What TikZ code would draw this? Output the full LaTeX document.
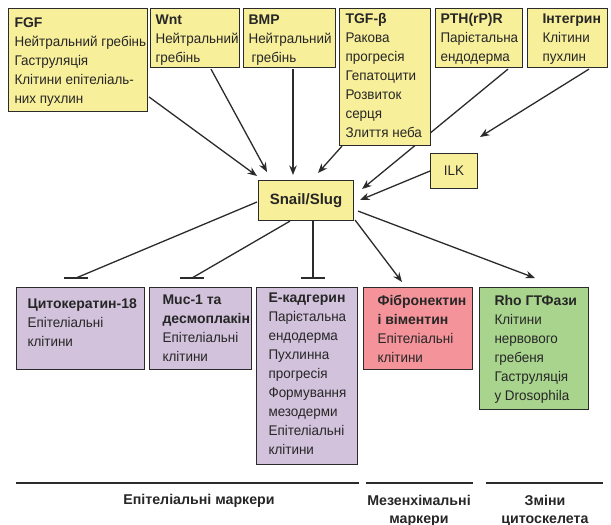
\documentclass[tikz,border=0pt]{standalone}
\usepackage{fontspec}
\setmainfont{Liberation Sans}[UprightFeatures={FakeStretch=0.96}, BoldFeatures={FakeStretch=1.0}]
\usetikzlibrary{arrows.meta,calc,backgrounds}
\definecolor{byel}{HTML}{F8EF9B}
\definecolor{bpur}{HTML}{D2C2DC}
\definecolor{bpink}{HTML}{F4939A}
\definecolor{bgrn}{HTML}{A9D48E}
\definecolor{bline}{HTML}{2B2B2B}
% #1 width, #2 height, #3 left inset, #4 first baseline, #5 text
\newcommand{\bxt}[5]{\parbox[t][#2pt][t]{#1pt}{\raggedright\leftskip=#3pt\relax
  \hyphenpenalty=10000\exhyphenpenalty=10000\baselineskip=19pt
  \rule{0pt}{#4pt}#5}}
\tikzset{
  box/.style={draw=bline, line width=1.1pt, inner sep=0pt, anchor=north west,
    font=\fontsize{14}{19}\selectfont, text=black!85},
  arr/.style={draw=bline, line width=1.3pt, -{Stealth[length=9.5pt,width=7.5pt]}},
  inh/.style={draw=bline, line width=1.3pt},
  rul/.style={draw=bline, line width=2pt},
  lab/.style={font=\fontsize{14.2}{18}\selectfont\bfseries, anchor=base, inner sep=0pt, text=black!85},
}
\begin{document}
\begin{tikzpicture}[x=1pt,y=-1pt]
\useasboundingbox (0,0) rectangle (611,525);
% top boxes
\node[box, fill=byel] (fgf) at (8,8) {\bxt{139}{103}{6}{19}{\textbf{FGF}\\Нейтральний~гребінь\\Гаструляція\\Клітини~епітеліаль-\\них~пухлин}};
\node[box, fill=byel] (wnt) at (150,8) {\bxt{89}{59}{5}{16}{\textbf{Wnt}\\Нейтральний\\гребінь}};
\node[box, fill=byel] (bmp) at (243,8) {\bxt{92}{59}{5}{16}{\textbf{BMP}\\Нейтральний\\\hspace*{3pt}гребінь}};
\node[box, fill=byel] (tgf) at (339,8) {\bxt{91}{137}{6}{15}{\textbf{TGF-β}\\Ракова\\прогресія\\Гепатоцити\\Розвиток\\серця\\Злиття~неба}};
\node[box, fill=byel] (pth) at (435,8) {\bxt{87}{59}{5}{15}{\textbf{PTH(rP)R}\\Парієтальна\\ендодерма}};
\node[box, fill=byel] (int) at (527,8) {\bxt{80}{59}{15}{15}{\textbf{Інтегрин}\\Клітини\\пухлин}};
% middle
\node[box, fill=byel, minimum width=47pt, minimum height=35pt] (ilk) at (430,153) {ILK};
\node[box, fill=byel, minimum width=95pt, minimum height=40pt, font=\fontsize{15}{19}\selectfont\bfseries] (snail) at (258,180) {Snail/Slug};
% bottom boxes
\node[box, fill=bpur] (cyto) at (16,287) {\bxt{128}{82}{11}{21}{\textbf{Цитокератин-18}\\Епітеліальні\\клітини}};
\node[box, fill=bpur] (muc) at (149,287) {\bxt{102}{82}{13}{17}{\textbf{Muc-1~та}\\\textbf{десмоплакін}\\Епітеліальні\\клітини}};
\node[box, fill=bpur] (ecad) at (256,287) {\bxt{101}{177}{12}{15}{\textbf{Е-кадгерин}\\Парієтальна\\ендодерма\\Пухлинна\\прогресія\\Формування\\мезодерми\\Епітеліальні\\клітини}};
\node[box, fill=bpink] (fibro) at (363,287) {\bxt{109}{82}{14}{18}{\textbf{Фібронектин}\\\textbf{і~віментин}\\Епітеліальні\\клітини}};
\node[box, fill=bgrn] (rho) at (479,287) {\bxt{109}{122}{15}{18}{\textbf{Rho ГТФази}\\Клітини\\нервового\\гребеня\\Гаструляція\\у~Drosophila}};
% free end and inhibition ends
\coordinate (intend) at (480,137);
\coordinate (tcyto) at ($(cyto.north west)+(60,-9)$);
\coordinate (tmuc) at ($(muc.north west)+(43,-9)$);
\coordinate (tecad) at ($(ecad.north west)+(57,-9)$);
\begin{scope}[on background layer]
\draw[arr] ($(fgf.north east)+(1,89)$) -- ($(snail.north west)+(-1,-4)$);
\draw[arr] ($(wnt.south west)+(61,1)$) -- ($(snail.north west)+(9,-8)$);
\draw[arr] ($(bmp.south west)+(50,1)$) -- ($(snail.north west)+(35,-5)$);
\draw[arr] ($(tgf.south west)+(3,0)$) -- ($(snail.north west)+(60,-7)$);
\draw[arr] ($(pth.south west)+(73,1)$) -- ($(snail.north east)+(8,9)$);
\draw[arr] ($(int.south west)+(62,1)$) -- (intend);
\draw[arr] (ilk.west) -- ($(snail.north east)+(6,20)$);
\end{scope}
% outputs
\draw[inh] ($(snail.north west)+(-1,22)$) -- (tcyto);
\draw[inh] ($(tcyto)+(-12,0)$) -- ($(tcyto)+(12,0)$);
\draw[inh] ($(snail.south west)+(32,0)$) -- (tmuc);
\draw[inh] ($(tmuc)+(-12,0)$) -- ($(tmuc)+(12,0)$);
\draw[inh] ($(snail.south west)+(55,0)$) -- (tecad);
\draw[inh] ($(tecad)+(-12,0)$) -- ($(tecad)+(12,0)$);
\draw[arr] ($(snail.south east)+(1,-1)$) -- ($(fibro.north west)+(39,-5)$);
\draw[arr] ($(snail.south east)+(4,-10)$) -- ($(rho.north west)+(56,-9)$);
% bottom categories
\draw[rul] (16,483) -- (359,483);
\draw[rul] (366,483) -- (473,483);
\draw[rul] (486,483) -- (603,483);
\node[lab] (epi) at (199,504) {Епітеліальні маркери};
\node[lab] (mez1) at (419,505) {Мезенхімальні};
\node[lab] (mez2) at (419,523) {маркери};
\node[lab] (cyt1) at (545,505) {Зміни};
\node[lab] (cyt2) at (545,523) {цитоскелета};
\end{tikzpicture}
\end{document}
